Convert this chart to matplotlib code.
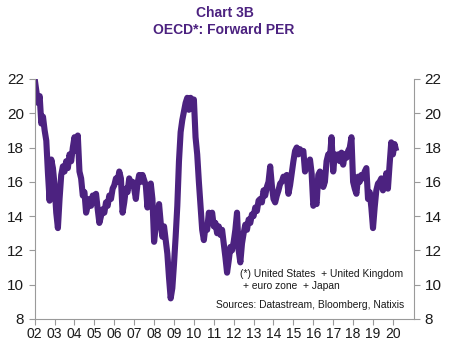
import numpy as np
import matplotlib
import matplotlib.pyplot as plt

matplotlib.use('Agg')

# monthly forward PER readings, one list per year
per_2002 = [22.0, 21.3, 20.6, 21.0, 19.4, 19.8, 19.0, 18.4, 16.5, 14.9, 17.3, 16.8]
per_2003 = [15.8, 14.2, 13.3, 15.0, 16.4, 16.9, 16.6, 17.2, 16.8, 17.6, 17.2, 18.0]
per_2004 = [18.6, 17.8, 18.7, 16.6, 16.2, 15.2, 15.4, 14.2, 14.6, 15.0, 14.6, 15.2]
per_2005 = [14.9, 15.3, 14.4, 13.6, 14.0, 14.4, 14.2, 14.8, 14.6, 15.2, 15.0, 15.6]
per_2006 = [15.8, 16.2, 16.0, 16.6, 16.2, 14.2, 14.8, 15.6, 15.4, 16.2, 15.8, 16.0]
per_2007 = [15.6, 15.0, 15.9, 16.4, 16.0, 16.4, 16.1, 15.8, 14.5, 15.3, 15.9, 15.0]
per_2008 = [12.5, 13.4, 14.0, 14.7, 13.6, 12.8, 13.4, 12.6, 11.8, 10.4, 9.2, 9.8]
per_2009 = [11.2, 12.8, 14.6, 17.2, 18.9, 19.6, 20.1, 20.6, 20.9, 20.2, 20.9, 20.6]
per_2010 = [20.8, 18.6, 17.6, 16.0, 14.6, 13.2, 12.6, 13.4, 13.2, 14.2, 13.8, 14.2]
per_2011 = [13.4, 13.6, 13.0, 13.4, 12.9, 13.2, 12.4, 11.6, 10.7, 11.4, 12.2, 12.0]
per_2012 = [12.5, 13.2, 14.2, 12.0, 11.3, 12.4, 13.0, 13.5, 13.2, 13.8, 13.6, 14.1]
per_2013 = [14.0, 14.5, 14.3, 14.9, 15.0, 14.8, 15.5, 15.2, 15.7, 16.0, 16.9, 15.8]
per_2014 = [15.0, 14.8, 15.2, 15.5, 15.9, 16.0, 16.3, 16.1, 16.4, 15.3, 15.8, 16.5]
per_2015 = [17.2, 17.8, 18.0, 17.6, 17.9, 17.7, 17.8, 16.6, 17.0, 16.8, 17.3, 16.5]
per_2016 = [14.6, 14.9, 14.7, 16.4, 16.6, 16.2, 15.7, 16.0, 17.2, 17.6, 17.4, 18.6]
per_2017 = [16.6, 17.6, 17.4, 17.6, 17.2, 17.7, 17.0, 17.6, 17.4, 17.8, 18.0, 18.6]
per_2018 = [16.0, 15.6, 15.3, 16.3, 16.0, 16.4, 16.2, 16.6, 16.8, 15.0, 15.4, 14.5]
per_2019 = [13.3, 14.5, 15.5, 15.9, 16.0, 16.2, 15.5, 15.8, 16.5, 15.6, 17.0, 18.3]
per_2020 = [17.6, 18.2, 17.8]

year_labels = ['02', '03', '04', '05', '06', '07', '08', '09', '10', '11',
               '12', '13', '14', '15', '16', '17', '18', '19', '20']
y_ticks = [8, 10, 12, 14, 16, 18, 20, 22]

PURPLE = '#4c2280'
GREY = '#9a9a9a'

def main() -> None:
    plt.rcParams['font.family'] = ['Liberation Sans', 'DejaVu Sans']

    series = [per_2002, per_2003, per_2004, per_2005, per_2006, per_2007,
              per_2008, per_2009, per_2010, per_2011, per_2012, per_2013,
              per_2014, per_2015, per_2016, per_2017, per_2018, per_2019,
              per_2020]
    values = np.concatenate(series)
    t = 2002 + np.arange(len(values)) / 12.0

    fig = plt.figure(figsize=(4.6, 3.54), dpi=100)
    ax = fig.add_axes([0.0754, 0.099, 0.8246, 0.678])

    ax.plot(t, values, color=PURPLE, lw=4.4, solid_joinstyle='round',
            solid_capstyle='butt')

    ax.set_xlim(2002, 2021.06)
    ax.set_ylim(8, 22)
    ax.set_xticks(2002 + np.arange(len(year_labels)))
    ax.set_xticklabels(year_labels, fontsize=10)
    ax.set_yticks(y_ticks)
    ax.tick_params(axis='y', labelsize=11, left=True, right=True,
                   labelleft=True, labelright=True)
    ax.tick_params(direction='out', length=4, color=GREY, labelcolor='#1a1a1a')
    ax.tick_params(axis='x', pad=2)

    for side in ['left', 'right', 'bottom']:
        ax.spines[side].set_color(GREY)
    ax.spines['top'].set_visible(False)

    fig.text(0.49, 0.962, 'Chart 3B', ha='center', va='center',
             fontsize=10, fontweight='bold', color=PURPLE)
    fig.text(0.487, 0.915, 'OECD*: Forward PER', ha='center', va='center',
             fontsize=10, fontweight='bold', color=PURPLE)

    ax.text(0.54, 0.175, '(*) United States  + United Kingdom',
            transform=ax.transAxes, fontsize=7.4, color='#1a1a1a', ha='left')
    ax.text(0.548, 0.125, '+ euro zone  + Japan',
            transform=ax.transAxes, fontsize=7.4, color='#1a1a1a', ha='left')
    ax.text(0.975, 0.045, 'Sources: Datastream, Bloomberg, Natixis',
            transform=ax.transAxes, fontsize=7.4, color='#1a1a1a', ha='right')

    fig.savefig('out.png', dpi=100)

main()
